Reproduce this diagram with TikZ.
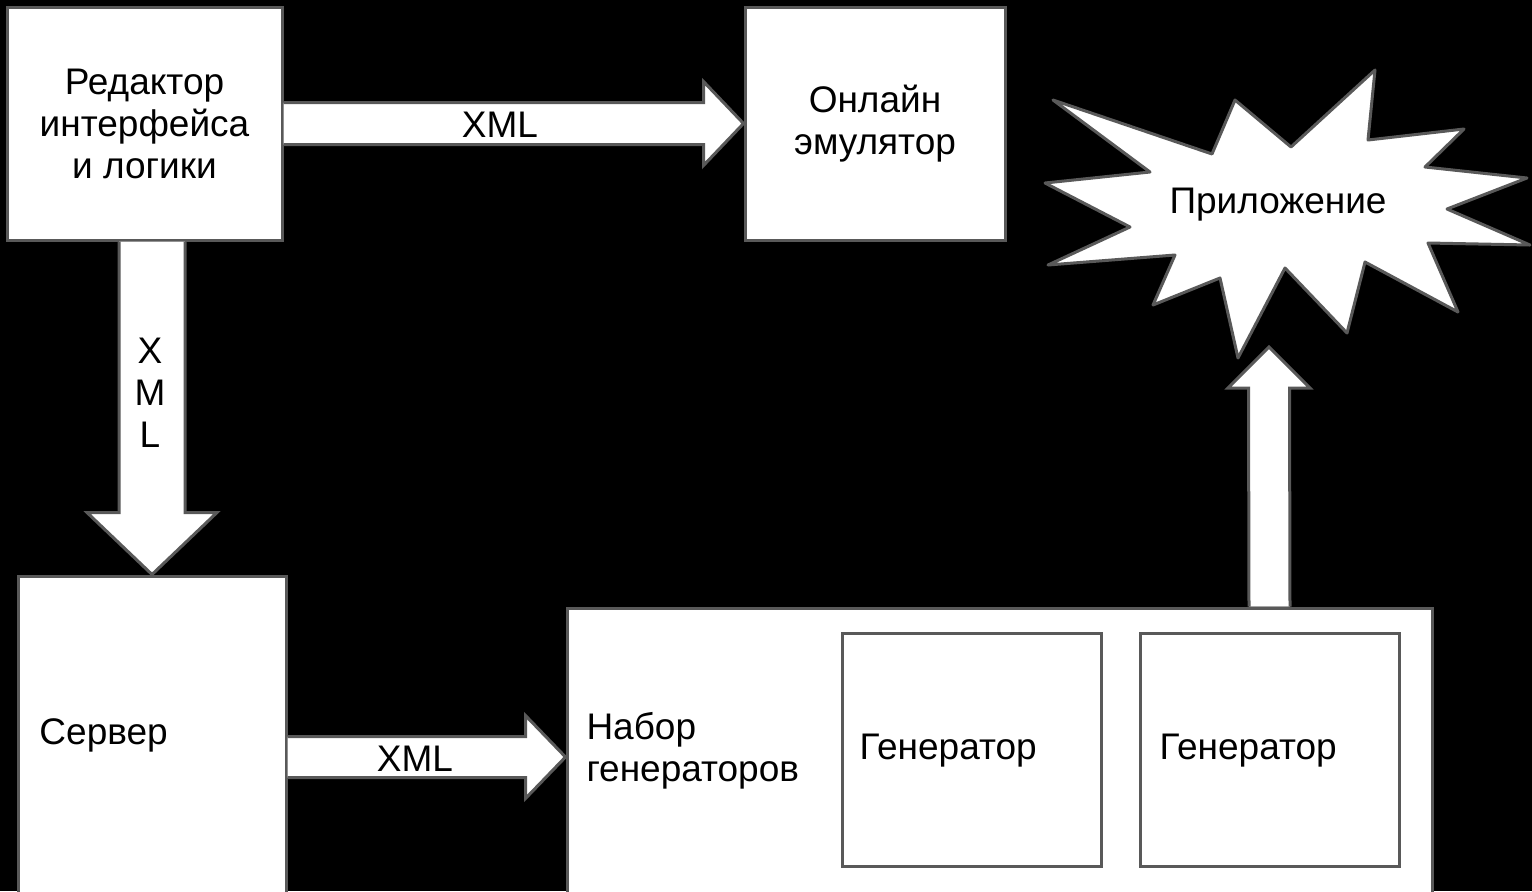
\documentclass[tikz,border=0pt]{standalone}
\usepackage{fontspec}
\setmainfont{Liberation Sans}
\usetikzlibrary{calc}
\definecolor{edgegray}{HTML}{595959}
% horizontal block arrow: from, to, shaft half, head half, head length
\newcommand\fatright[5]{%
  \filldraw[fatarrow] ($(#1)+(0,-#3)$) -- ($(#2)+(-#5,-#3)$) -- ($(#2)+(-#5,-#4)$) -- (#2)
    -- ($(#2)+(-#5,#4)$) -- ($(#2)+(-#5,#3)$) -- ($(#1)+(0,#3)$);}
\begin{document}
\begin{tikzpicture}[x=0.5pt, y=-0.5pt, line width=1.5pt,
  box/.style={rectangle,draw=edgegray,fill=white,inner sep=0pt,align=center},
  fatarrow/.style={draw=edgegray,fill=white,line join=miter},
  every node/.style={font=\fontsize{18.5}{21}\selectfont}]
\fill[black] (0,0) rectangle (1532,891);
\useasboundingbox (0,0) rectangle (1532,891);

\node[box,minimum width=137.5pt,minimum height=116.5pt] (ed) at (144.5,123.5) {Редактор\\интерфейса\\и логики};
\node[box,minimum width=130pt,minimum height=116.5pt] (emu) at (875,123.5) {Онлайн\\эмулятор};
\node[box,minimum width=134pt,minimum height=181pt] (srv) at (152,757) {};
\node[box,minimum width=432.5pt,minimum height=149pt] (nab) at (999.5,757) {};
\node[box,minimum width=129.5pt,minimum height=116.5pt] (gen1) at (971.5,749.5) {};
\node[box,minimum width=129.5pt,minimum height=116.5pt] (gen2) at (1269.5,749.5) {};

\node[anchor=west,inner sep=0pt] (srvlbl) at (38,735) {Сервер};
\node[anchor=west,inner sep=0pt,align=left] (nablbl) at (585,751) {Набор\\генераторов};
\node[anchor=west,inner sep=0pt] (gen1lbl) at (858,751) {Генератор};
\node[anchor=west,inner sep=0pt] (gen2lbl) at (1158,751) {Генератор};

% application burst
\filldraw[draw=edgegray,fill=white,line join=round]
  (1053,100) -- (1212,154) -- (1235,100) -- (1291,147) -- (1375,70) -- (1368,140)
  -- (1464,129) -- (1425,167) -- (1527,178) -- (1447,209) -- (1530,245) -- (1428,243)
  -- (1458,312) -- (1365,262) -- (1347,333) -- (1285,268) -- (1238,358) -- (1220,278)
  -- (1153,305) -- (1175,255) -- (1048,265) -- (1130,227) -- (1045,183) -- (1150,172) -- cycle;
\node (app) at (1278,205) {Приложение};
\coordinate (apptip) at (1269,347);

% arrows
\fatright{ed.east}{emu.west}{21}{42}{40}
\node (xml1) at (500,125) {XML};
\fatright{srv.east}{nab.west}{20.5}{41.5}{40}
\node (xml2) at (415,759) {XML};
\filldraw[fatarrow] ($(ed.south -| srv.north)+(-33,0)$) -- ($(srv.north)+(-33,-62)$) -- ($(srv.north)+(-65,-62)$)
  -- (srv.north) -- ($(srv.north)+(65,-62)$) -- ($(srv.north)+(33,-62)$) -- ($(ed.south -| srv.north)+(33,0)$);
\node[align=center] (xml3) at (150,393) {X\\M\\L};
\filldraw[fatarrow] ($(nab.north -| gen2)+(-20.5,0)$) -- ($(apptip)+(-20.5,41)$) -- ($(apptip)+(-41,41)$)
  -- (apptip) -- ($(apptip)+(41,41)$) -- ($(apptip)+(20.5,41)$) -- ($(nab.north -| gen2)+(20.5,0)$);
\end{tikzpicture}
\end{document}
